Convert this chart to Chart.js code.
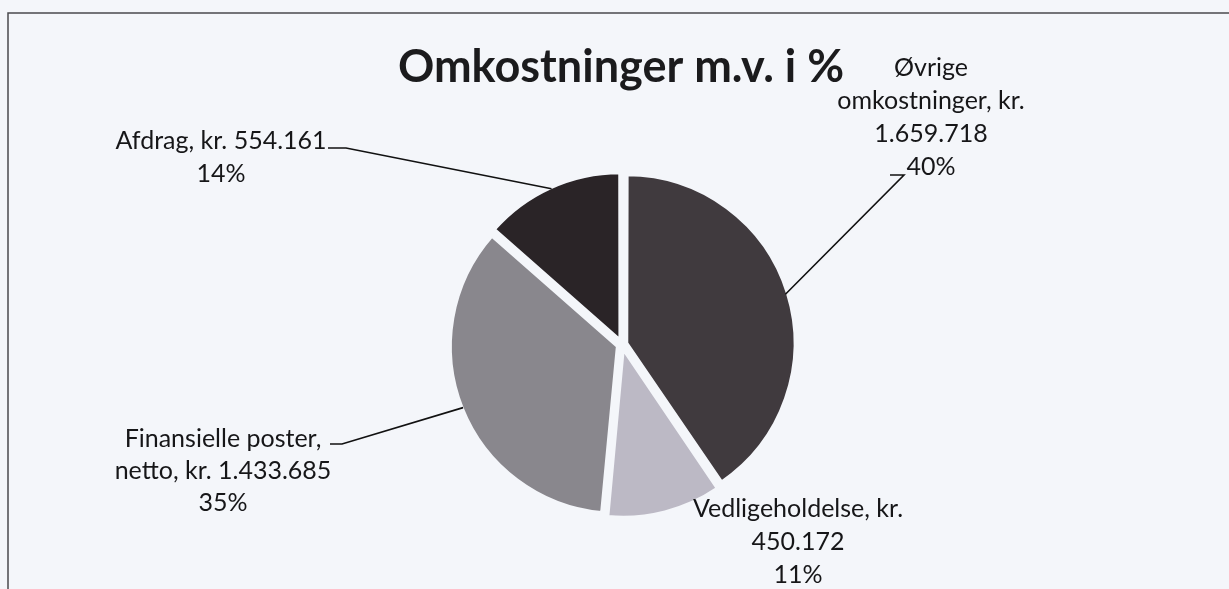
<!DOCTYPE html>
<html>
<head>
<meta charset="utf-8">
<script src="https://cdn.jsdelivr.net/npm/chart.js@4/dist/chart.umd.min.js"></script>
<style>
  body { margin: 0; background: #f4f6fa; }
  #wrap { width: 1229px; height: 589px; position: relative; }
</style>
</head>
<body>
<div id="wrap"><canvas id="pieChart"></canvas></div>
<script>
// data from the chart
const categories = ['Øvrige omkostninger', 'Vedligeholdelse', 'Finansielle poster, netto', 'Afdrag'];
const amounts = [1659718, 450172, 1433685, 554161];
const amountLabels = ['1.659.718', '450.172', '1.433.685', '554.161'];
const percentLabels = ['40%', '11%', '35%', '14%'];
const sliceColors = ['#403a3e', '#bcb9c5', '#89878d', '#2a2427'];

// label text lines per slice
const labelLines = [
  ['Øvrige', 'omkostninger, kr.', amountLabels[0], percentLabels[0]],
  ['Vedligeholdelse, kr.', amountLabels[1], percentLabels[1]],
  ['Finansielle poster,', 'netto, kr. ' + amountLabels[2], percentLabels[2]],
  ['Afdrag, kr. ' + amountLabels[3], percentLabels[3]]
];

// where the labels sit (center x, first line y, line gap) and the leader elbow
const labelPos = [
  { x: 931, y: 68, gap: 33, elbow: [[890, 175], [904, 175]] },
  { x: 798, y: 509, gap: 33, elbow: null },
  { x: 223, y: 439, gap: 32, elbow: [[330, 444], [342, 444]] },
  { x: 221, y: 141, gap: 33, elbow: [[328, 148], [346, 148]] }
];

Chart.register({
  id: 'scanLabels',
  beforeDraw: function (chart) {
    const ctx = chart.ctx;
    ctx.save();
    ctx.fillStyle = '#f4f6fa';
    ctx.fillRect(0, 0, chart.width, chart.height);
    ctx.strokeStyle = '#4a4a4e';
    ctx.lineWidth = 1.5;
    ctx.beginPath();
    ctx.moveTo(8, chart.height + 2);
    ctx.lineTo(8, 13);
    ctx.lineTo(chart.width + 2, 13);
    ctx.stroke();
    ctx.restore();
  },
  afterDatasetsDraw: function (chart) {
    const ctx = chart.ctx;
    const arcs = chart.getDatasetMeta(0).data;
    ctx.save();
    // title
    ctx.fillStyle = '#1b1b1d';
    ctx.font = 'bold 45px Lato';
    ctx.textAlign = 'center';
    ctx.textBaseline = 'middle';
    ctx.fillText('Omkostninger m.v. i %', 621, 67);

    ctx.font = '25px Lato';
    ctx.strokeStyle = '#111';
    ctx.lineWidth = 1.6;
    arcs.forEach(function (arc, i) {
      const p = arc.getProps(['x', 'y', 'startAngle', 'endAngle', 'outerRadius', 'options'], true);
      const mid = (p.startAngle + p.endAngle) / 2;
      // chart.js moves an arc out by offset / 4 when drawing
      const r = p.outerRadius + (p.options.offset || 0) / 4;
      const pos = labelPos[i];
      if (pos.elbow) {
        ctx.beginPath();
        ctx.moveTo(pos.elbow[0][0], pos.elbow[0][1]);
        ctx.lineTo(pos.elbow[1][0], pos.elbow[1][1]);
        ctx.lineTo(p.x + Math.cos(mid) * r, p.y + Math.sin(mid) * r);
        ctx.stroke();
      }
      ctx.fillStyle = '#161618';
      labelLines[i].forEach(function (line, j) {
        ctx.fillText(line, pos.x, pos.y + j * pos.gap);
      });
    });
    ctx.restore();
  }
});

const ctx = document.getElementById('pieChart').getContext('2d');
const myPie = new Chart(ctx, {
  type: 'pie',
  data: {
    labels: categories,
    datasets: [{
      data: amounts,
      backgroundColor: sliceColors,
      borderColor: '#f4f6fa',
      borderWidth: 3,
      offset: 20
    }]
  },
  options: {
    responsive: true,
    maintainAspectRatio: false,
    animation: false,
    layout: { padding: { left: 15, right: 0, top: 167, bottom: 67 } },
    plugins: {
      legend: { display: false },
      tooltip: { enabled: false },
      title: { display: false }
    }
  }
});
</script>
</body>
</html>
